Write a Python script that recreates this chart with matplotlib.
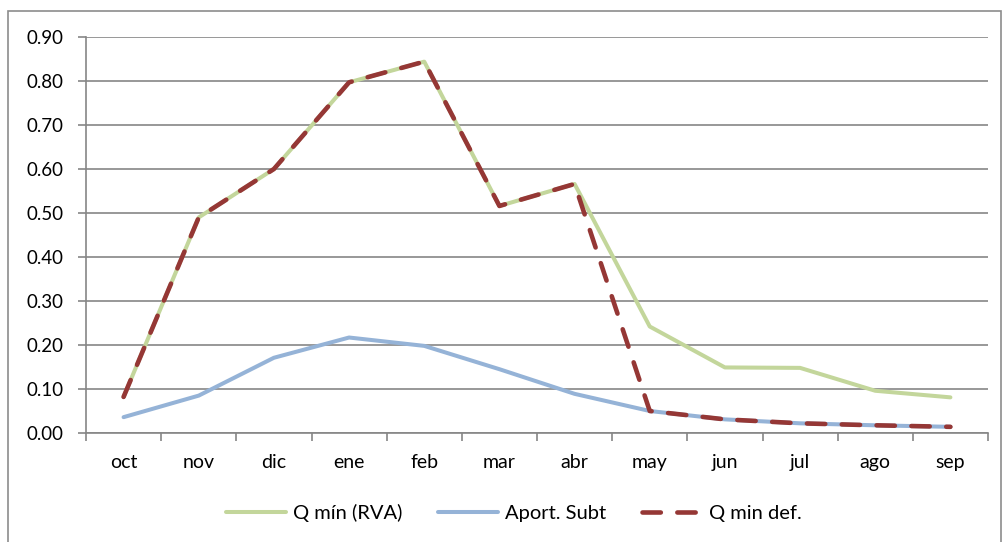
import matplotlib

matplotlib.use("Agg")
import matplotlib.pyplot as plt
from matplotlib.patches import Rectangle
from matplotlib.ticker import FixedLocator

months = ["oct", "nov", "dic", "ene", "feb", "mar", "abr", "may", "jun", "jul", "ago", "sep"]
q_min_rva = [0.082, 0.490, 0.600, 0.797, 0.844, 0.516, 0.566, 0.242, 0.149, 0.148, 0.096, 0.081]
aport_subt = [0.036, 0.085, 0.171, 0.217, 0.198, 0.145, 0.089, 0.050, 0.031, 0.022, 0.0175, 0.014]
q_min_def = [0.082, 0.490, 0.600, 0.797, 0.844, 0.516, 0.566, 0.050, 0.031, 0.022, 0.0175, 0.014]
y_ticks = [0.0, 0.1, 0.2, 0.3, 0.4, 0.5, 0.6, 0.7, 0.8, 0.9]

plt.rcParams["font.family"] = ["Lato", "DejaVu Sans"]

fig = plt.figure(figsize=(10.02, 5.42), dpi=100)
ax = fig.add_axes([86 / 1002, 1 - 433 / 542, (988 - 86) / 1002, (433 - 37) / 542])

# outer chart border
fig.patches.append(
    Rectangle((8 / 1002, -0.05), (1001 - 8) / 1002, 1.05 - 11 / 542,
              transform=fig.transFigure, fill=False, edgecolor="#8c8c8c", linewidth=1.2)
)

x = list(range(len(months)))
grey = "#868686"
lw = 2.9
ax.plot(x, q_min_rva, color="#C3D69B", lw=lw, label="Q mín (RVA)", solid_capstyle="round")
ax.plot(x, aport_subt, color="#95B3D7", lw=lw, label="Aport. Subt", solid_capstyle="round")
ax.plot(x, q_min_def, color="#953735", lw=3.3, dashes=(4.0, 3.6), label="Q min def.",
        dash_capstyle="round")

ax.set_xlim(-0.5, len(months) - 0.5)
ax.set_ylim(0, 0.9)
ax.set_yticks(y_ticks)
ax.set_yticklabels([f"{v:.2f}" for v in y_ticks])
ax.set_xticks(x)
ax.set_xticklabels(months)
ax.xaxis.set_minor_locator(FixedLocator([i - 0.5 for i in range(len(months) + 1)]))
ax.tick_params(axis="x", which="major", length=0, pad=15, labelsize=14, colors="black")
ax.tick_params(axis="x", which="minor", length=6, width=1.2, color=grey, direction="out")
ax.tick_params(axis="y", length=6, width=1.2, color=grey, labelsize=13.5, pad=10)

ax.grid(axis="y", color=grey, lw=1.2)
ax.set_axisbelow(True)
for side in ["top", "right"]:
    ax.spines[side].set_visible(False)
for side in ["left", "bottom"]:
    ax.spines[side].set_color(grey)
    ax.spines[side].set_linewidth(1.2)

ax.legend(loc="center", bbox_to_anchor=(0.4745, -0.202), ncol=3, frameon=False,
          fontsize=14.5, handlelength=3.0, columnspacing=1.75, handletextpad=0.35)

fig.savefig("out.png", dpi=100)
